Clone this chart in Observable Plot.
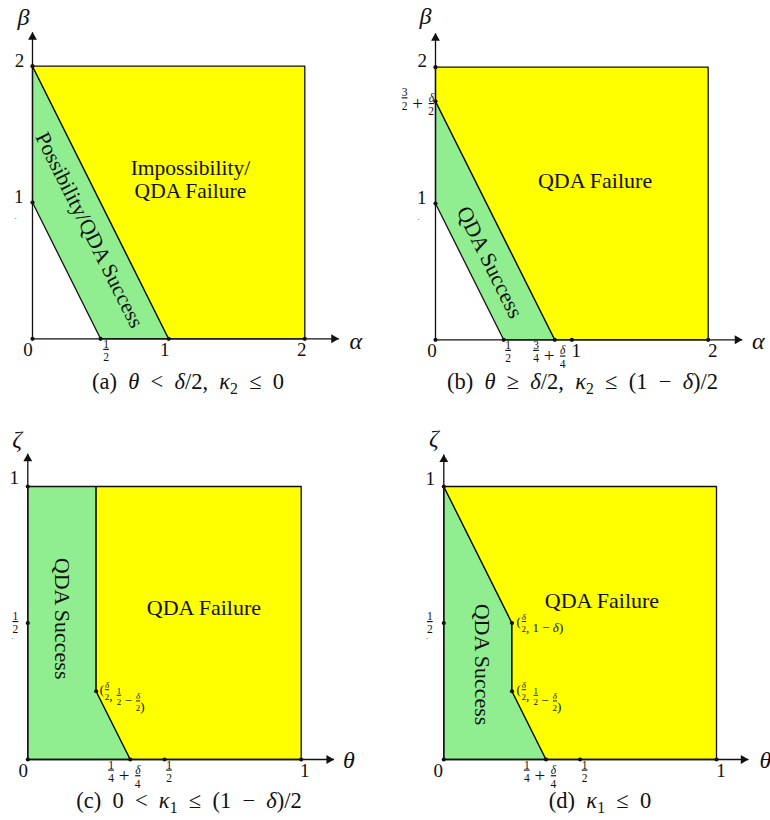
<!DOCTYPE html>
<html><head><meta charset="utf-8">
<script src="https://cdn.jsdelivr.net/npm/d3@7"></script>
<script src="https://cdn.jsdelivr.net/npm/@observablehq/plot@0.6"></script>
<style>
html,body{margin:0;padding:0;background:#fff;}
#wrap{position:relative;width:770px;height:820px;overflow:hidden;}
#wrap svg{position:absolute;overflow:visible;}
#wrap text, #wrap tspan{white-space:pre;}
</style></head><body><div id="wrap"></div>
<script>
// ---------------- DATA ----------------
// Panel (a): alpha-beta plane
const aGreen  = [[0,1],[0,2],[1,0],[0.5,0]];
const aYellow = [[0,2],[2,2],[2,0],[1,0]];
const aDots   = [[0,0],[0.5,0],[1,0],[2,0],[0,1],[0,2]];
const aXTickVals = [0, 0.5, 1, 2];
const aXTickTex  = ["0", "\\frac{1}{2}", "1", "2"];
const aYTickVals = [1, 2];
const aYTickTex  = ["1", "2"];
const aRegionText = ["Impossibility/\nQDA Failure", "Possibility/QDA Success"];
const aRegionPos  = [[1.16, 1.17], [0.42, 0.80]];
const aAxisNames  = ["α", "β"];
const aCaption = "(a) θ < δ/2, κ_{2} ≤ 0";

// Panel (b)
const bGreen  = [[0,1],[0,1.75],[0.875,0],[0.5,0]];
const bYellow = [[0,1.75],[0,2],[2,2],[2,0],[0.875,0]];
const bDots   = [[0,0],[0.5,0],[0.875,0],[1,0],[2,0],[0,1],[0,1.75],[0,2]];
const bXTickVals = [0, 0.5, 0.875, 1, 2];
const bXTickTex  = ["0", "\\frac{1}{2}", "\\frac{3}{4} + \\frac{δ}{4}", "1", "2"];
const bYTickVals = [1, 1.75, 2];
const bYTickTex  = ["1", "\\frac{3}{2} + \\frac{δ}{2}", "2"];
const bRegionText = ["QDA Failure", "QDA Success"];
const bRegionPos  = [[1.17, 1.17], [0.40, 0.57]];
const bAxisNames  = ["α", "β"];
const bCaption = "(b) θ ≥ δ/2, κ_{2} ≤ (1 − δ)/2";

// Panel (c): theta-zeta plane
const cGreen  = [[0,0],[0,1],[0.25,1],[0.25,0.25],[0.375,0]];
const cYellow = [[0.25,1],[1,1],[1,0],[0.375,0],[0.25,0.25]];
const cDots   = [[0,0],[0.375,0],[0.5,0],[1,0],[0,0.5],[0,1],[0.25,0.25]];
const cXTickVals = [0, 0.375, 0.5, 1];
const cXTickTex  = ["0", "\\frac{1}{4} + \\frac{δ}{4}", "\\frac{1}{2}", "1"];
const cYTickVals = [0.5, 1];
const cYTickTex  = ["\\frac{1}{2}", "1"];
const cPointVals = [[0.25, 0.25]];
const cPointTex  = ["(\\frac{δ}{2}, \\frac{1}{2} − \\frac{δ}{2})"];
const cRegionText = ["QDA Failure", "QDA Success"];
const cRegionPos  = [[0.644, 0.557], [0.126, 0.516]];
const cAxisNames  = ["θ", "ζ"];
const cCaption = "(c) 0 < κ_{1} ≤ (1 − δ)/2";

// Panel (d)
const dGreen  = [[0,0],[0,1],[0.25,0.5],[0.25,0.25],[0.375,0]];
const dYellow = [[0,1],[1,1],[1,0],[0.375,0],[0.25,0.25],[0.25,0.5]];
const dDots   = [[0,0],[0.375,0],[0.5,0],[1,0],[0,0.5],[0,1],[0.25,0.5],[0.25,0.25]];
const dXTickVals = [0, 0.375, 0.5, 1];
const dXTickTex  = ["0", "\\frac{1}{4} + \\frac{δ}{4}", "\\frac{1}{2}", "1"];
const dYTickVals = [0.5, 1];
const dYTickTex  = ["\\frac{1}{2}", "1"];
const dPointVals = [[0.25, 0.5], [0.25, 0.25]];
const dPointTex  = ["(\\frac{δ}{2}, 1 − δ)", "(\\frac{δ}{2}, \\frac{1}{2} − \\frac{δ}{2})"];
const dRegionText = ["QDA Failure", "QDA Success"];
const dRegionPos  = [[0.58, 0.583], [0.141, 0.348]];
const dAxisNames  = ["θ", "ζ"];
const dCaption = "(d) κ_{1} ≤ 0";

// ---------------- STYLE / HELPERS ----------------
const FONT = "Liberation Serif, Times New Roman, serif";
const INK = "#111";
const GREEN = "#90ee90", YELLOW = "#ffff00";
const GREEK = /[\u0370-\u03ff]/;

function runsOf(s) {
  const out = [];
  for (const ch of s) {
    const it = GREEK.test(ch);
    const last = out[out.length - 1];
    if (last && last.it === it) last.s += ch; else out.push({s: ch, it});
  }
  return out;
}
function parseMath(s) {
  const toks = []; let i = 0, buf = "";
  const flush = () => { if (buf) { toks.push({t: buf}); buf = ""; } };
  const grab = () => {
    if (s[i] !== "{") return s[i++];
    i++; let out = "";
    while (i < s.length && s[i] !== "}") out += s[i++];
    i++; return out;
  };
  while (i < s.length) {
    if (s.startsWith("\\frac", i)) { flush(); i += 5; const n = grab(); const d = grab(); toks.push({n, d}); }
    else if (s[i] === "_") { flush(); i++; toks.push({sub: grab()}); }
    else buf += s[i++];
  }
  flush();
  return toks;
}
// render-function mark: one <text> per label, inline flow via tspans;
// stacked one-character fractions: underlined numerator, denominator pulled back under it.
function mathMark(items, opt = {}) {
  return (index, scales) => {
    const g = d3.create("svg:g").attr("font-family", FONT).attr("fill", INK);
    for (const it of items) {
      const size = it.size ?? opt.size ?? 18;
      const fs = it.fsize ?? opt.fsize ?? size * 0.62;
      const anchor = it.anchor ?? opt.anchor ?? "middle";
      const px = (it.px ?? scales.x(it.x)) + (it.dx ?? opt.dx ?? 0);
      const my = (it.py ?? scales.y(it.y)) + (it.dy ?? opt.dy ?? 0);
      const base = my + 0.27 * size;
      const t = g.append("text").attr("x", px).attr("y", base).attr("font-size", size)
        .attr("text-anchor", anchor).style("white-space", "pre");
      let cur = 0;
      const to = (target) => { const d = target - cur; cur = target; return d; };
      const numOff = -2.5 - 0.27 * size, denOff = 3 + 0.68 * fs - 0.27 * size;
      for (const tk of parseMath(it.tex)) {
        if (tk.t != null) {
          const s = opt.wide ? tk.t.replace(/ /g, "\u2002") : tk.t;
          for (const r of runsOf(s))
            t.append("tspan").attr("dy", to(0)).attr("font-style", r.it ? "italic" : null).text(r.s);
        } else if (tk.n != null) {
          t.append("tspan").attr("dx", 1).attr("dy", to(numOff)).attr("font-size", fs)
            .attr("font-style", GREEK.test(tk.n) ? "italic" : null)
            .style("text-decoration", "underline").style("text-decoration-thickness", "0.6px")
            .text(tk.n);
          t.append("tspan").attr("dx", -0.5 * fs).attr("dy", to(denOff)).attr("font-size", fs)
            .attr("font-style", GREEK.test(tk.d) ? "italic" : null).text(tk.d);
          t.append("tspan").attr("dx", 1).attr("dy", to(0)).attr("font-size", fs).text("");
        } else {
          t.append("tspan").attr("dy", to(0.2 * size)).attr("font-size", size * 0.7).text(tk.sub);
        }
      }
    }
    return g.node();
  };
}

const wrap = document.getElementById("wrap");

function panel(c) {
  const poly = (pts, fill) => Plot.line([...pts, pts[0]], {
    x: d => d[0], y: d => d[1], fill, stroke: INK, strokeWidth: 1.3, strokeLinejoin: "round"
  });
  const ax = c.arrow[0], ay = c.arrow[1];
  const svg = Plot.plot({
    width: 385, height: 410,
    marginLeft: c.m[0], marginRight: c.m[1], marginTop: c.m[2], marginBottom: c.m[3],
    x: {domain: c.domain[0], axis: null},
    y: {domain: c.domain[1], axis: null},
    style: {background: "transparent", overflow: "visible"},
    marks: [
      poly(c.green, GREEN),
      poly(c.yellow, YELLOW),
      Plot.link([{x1: 0, y1: 0, x2: ax, y2: 0}, {x1: 0, y1: 0, x2: 0, y2: ay}],
        {x1: "x1", y1: "y1", x2: "x2", y2: "y2", stroke: INK, strokeWidth: 1.3}),
      Plot.dot([[ax, 0]], {x: d => d[0], y: d => d[1], symbol: "triangle", r: 3.3, fill: INK, stroke: null, rotate: 90, dx: -5}),
      Plot.dot([[0, ay]], {x: d => d[0], y: d => d[1], symbol: "triangle", r: 3.3, fill: INK, stroke: null, dy: 5}),
      Plot.dot(c.dots, {x: d => d[0], y: d => d[1], r: 2.1, fill: INK, stroke: null}),
      // region labels
      Plot.text(c.regionText.map((t, i) => ({t, x: c.regionPos[i][0], y: c.regionPos[i][1], r: c.rot[i]})),
        {x: "x", y: "y", text: "t", rotate: "r", fontFamily: FONT, fontSize: c.regionSize, lineHeight: 1.06, fill: INK}),
      // axis names
      Plot.text([{t: c.axisNames[0], x: ax, y: 0}], {x: "x", y: "y", text: "t", dx: c.xnameOff[0], dy: c.xnameOff[1],
        fontFamily: FONT, fontStyle: "italic", fontSize: 24, fill: INK}),
      Plot.text([{t: c.axisNames[1], x: 0, y: ay}], {x: "x", y: "y", text: "t", dx: c.ynameOff[0], dy: c.ynameOff[1],
        fontFamily: FONT, fontStyle: "italic", fontSize: 24, fill: INK}),
      // small specks left of the y axis
      Plot.text([{x: 0, y: c.speck}], {x: "x", y: "y", text: () => ".", dx: c.speckOff[0], dy: c.speckOff[1],
        fontFamily: FONT, fontSize: 9, fill: "#444"}),
      // tick labels
      mathMark(c.xTicks.map((v, i) => ({x: v, y: 0, tex: c.xTex[i], dx: c.xdx[i], dy: c.xTex[i].includes("frac") ? 12 : 12.5})),
        {size: 19, fsize: 11.5}),
      mathMark(c.yTicks.map((v, i) => ({x: 0, y: v, tex: c.yTex[i], dx: c.ydx[i], dy: c.ydy[i], anchor: "end"})),
        {size: 19, fsize: 11.5}),
      mathMark((c.points || []).map((p, i) => ({x: p[0], y: p[1], tex: c.pointTex[i], dx: c.pdx, dy: 0, anchor: "start"})),
        {size: 13, fsize: 9}),
      mathMark([{px: c.cap[0], py: c.cap[1], tex: c.caption, anchor: "middle"}], {size: 22.5, wide: true})
    ]
  });
  svg.style.left = c.left + "px";
  svg.style.top = c.top + "px";
  wrap.append(svg);
}

panel({
  left: 0, top: 0, m: [32, 80.7, 65.7, 71.7], domain: [[0, 2], [0, 2]], arrow: [2.25, 2.25],
  green: aGreen, yellow: aYellow, dots: aDots,
  xTicks: aXTickVals, xTex: aXTickTex, xdx: [-4, 5, -3.5, -2.5],
  yTicks: aYTickVals, yTex: aYTickTex, ydx: [-8.5, -7.7], ydy: [-4, -4],
  regionText: aRegionText, regionPos: aRegionPos, rot: [0, 63.4], regionSize: 21.5,
  axisNames: aAxisNames, xnameOff: [17, 3], ynameOff: [-9, -15],
  speck: 1, speckOff: [-17, 14],
  cap: [188, 383], caption: aCaption
});
panel({
  left: 385, top: 0, m: [50, 62.3, 66.7, 70.7], domain: [[0, 2], [0, 2]], arrow: [2.25, 2.25],
  green: bGreen, yellow: bYellow, dots: bDots,
  xTicks: bXTickVals, xTex: bXTickTex, xdx: [-3, 4, -6, 5, 5],
  yTicks: bYTickVals, yTex: bYTickTex, ydx: [-8.5, -2, -8], ydy: [-4, -2, -5],
  regionText: bRegionText, regionPos: bRegionPos, rot: [0, 63.4], regionSize: 22,
  axisNames: bAxisNames, xnameOff: [16, 2], ynameOff: [-10, -17],
  speck: 1, speckOff: [-17, 14],
  cap: [197.5, 383], caption: bCaption
});
panel({
  left: 0, top: 410, m: [27.3, 84.3, 76, 61], domain: [[0, 1], [0, 1]], arrow: [1.12, 1.12],
  green: cGreen, yellow: cYellow, dots: cDots,
  xTicks: cXTickVals, xTex: cXTickTex, xdx: [-4, -6.5, 4, 4],
  yTicks: cYTickVals, yTex: cYTickTex, ydx: [-10, -8.3], ydy: [0, -7],
  points: cPointVals, pointTex: cPointTex, pdx: 4,
  regionText: cRegionText, regionPos: cRegionPos, rot: [0, 90], regionSize: 22,
  axisNames: cAxisNames, xnameOff: [15, 1], ynameOff: [-10.6, -14],
  speck: 0.5, speckOff: [-15.6, 13],
  cap: [189, 392], caption: cCaption
});
panel({
  left: 385, top: 410, m: [58.3, 54, 76, 61], domain: [[0, 1], [0, 1]], arrow: [1.117, 1.117],
  green: dGreen, yellow: dYellow, dots: dDots,
  xTicks: dXTickVals, xTex: dXTickTex, xdx: [-5, -6.5, 4, 5],
  yTicks: dYTickVals, yTex: dYTickTex, ydx: [-11.6, -8.3], ydy: [0, -6],
  points: dPointVals, pointTex: dPointTex, pdx: 5,
  regionText: dRegionText, regionPos: dRegionPos, rot: [0, 90], regionSize: 22,
  axisNames: dAxisNames, xnameOff: [17, 1], ynameOff: [-10, -16],
  speck: 0.5, speckOff: [-16.6, 13],
  cap: [215, 392], caption: dCaption
});
</script></body></html>
